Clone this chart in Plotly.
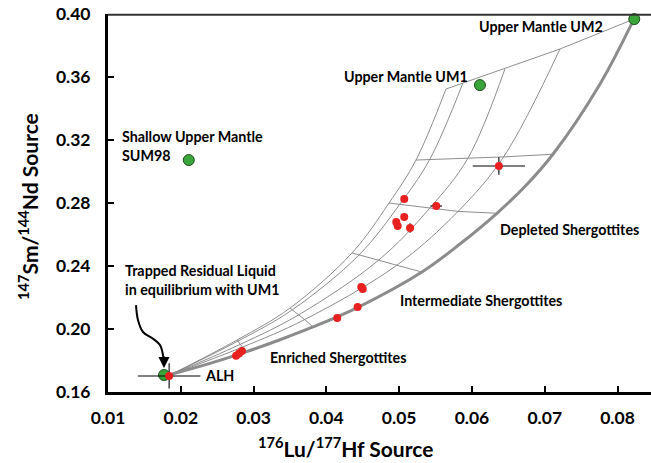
import plotly.graph_objects as go

# ---------------- data ----------------
# mixing curves (thin) from trapped liquid toward upper-mantle end members
c1_x = [0.01879, 0.02772, 0.03500, 0.04352, 0.04860, 0.05231, 0.05643]
c1_y = [0.1714, 0.1930, 0.2133, 0.2483, 0.2800, 0.3073, 0.3524]
c2_x = [0.01879, 0.02784, 0.03532, 0.04448, 0.05008, 0.05419, 0.05876]
c2_y = [0.1714, 0.1923, 0.2122, 0.2470, 0.2792, 0.3076, 0.3562]
c3_x = [0.01879, 0.02819, 0.03619, 0.04717, 0.05423, 0.05945, 0.06453]
c3_y = [0.1714, 0.1903, 0.2090, 0.2437, 0.2769, 0.3085, 0.3651]
c4_x = [0.01879, 0.02852, 0.03702, 0.04967, 0.05809, 0.06435, 0.07209]
c4_y = [0.1714, 0.1886, 0.2060, 0.2405, 0.2747, 0.3093, 0.3778]
# thick curve ALH -> UM2
c5_x = [0.01879, 0.02401, 0.02896, 0.03363, 0.03816, 0.04434, 0.05313,
        0.05835, 0.06343, 0.06728, 0.07113, 0.07758, 0.08225]
c5_y = [0.1714, 0.1782, 0.1855, 0.1932, 0.2013, 0.2138, 0.2362,
        0.2540, 0.2735, 0.2905, 0.3110, 0.3555, 0.3968]

# end members (green)
em_x = [0.0211, 0.0611, 0.0823]
em_y = [0.3073, 0.3549, 0.3968]
trapped_x = [0.0177]
trapped_y = [0.1708]

# shergottite sources (red)
sh_x = [0.0184, 0.0276, 0.0280, 0.0284, 0.0415, 0.0443, 0.0448, 0.0450,
        0.0507, 0.0551, 0.0507, 0.0496, 0.0498, 0.0515, 0.0637]
sh_y = [0.1702, 0.1830, 0.1845, 0.1860, 0.2070, 0.2140, 0.2267, 0.2254,
        0.2825, 0.2781, 0.2711, 0.2679, 0.2654, 0.2641, 0.3035]
sh_ex = [0.0043, 0, 0, 0, 0, 0, 0, 0, 0, 0.0008, 0, 0, 0, 0, 0.0036]
sh_ey = [0.0080, 0, 0, 0, 0, 0, 0, 0, 0, 0, 0.0025, 0, 0, 0.0030, 0.0055]

# curved arrow path
arrow_x = [0.01385, 0.01412, 0.01481, 0.01604, 0.01714, 0.01755, 0.01769]
arrow_y = [0.2152, 0.2057, 0.1981, 0.1943, 0.1898, 0.1835, 0.1765]

x_ticks = [0.01, 0.02, 0.03, 0.04, 0.05, 0.06, 0.07, 0.08]
x_tick_labels = ["0.01", "0.02", "0.03", "0.04", "0.05", "0.06", "0.07", "0.08"]
y_ticks = [0.16, 0.20, 0.24, 0.28, 0.32, 0.36, 0.40]
y_tick_labels = ["0.16", "0.20", "0.24", "0.28", "0.32", "0.36", "0.40"]

# ---------------- figure ----------------
THIN = "#808080"
FONT = "Lato"
fig = go.Figure()

thin_curves = [(c1_x, c1_y), (c2_x, c2_y), (c3_x, c3_y), (c4_x, c4_y)]
for cx, cy in thin_curves:
    fig.add_trace(go.Scatter(x=cx, y=cy, mode="lines",
                             line=dict(color=THIN, width=0.9, shape="spline", smoothing=1.0),
                             hoverinfo="skip", showlegend=False))

# tie lines across the curves (equal mixing proportions)
for k in range(1, 7):
    tx = [c[0][k] for c in thin_curves] + [c5_x[2 * k]]
    ty = [c[1][k] for c in thin_curves] + [c5_y[2 * k]]
    fig.add_trace(go.Scatter(x=tx, y=ty, mode="lines",
                             line=dict(color=THIN, width=0.9),
                             hoverinfo="skip", showlegend=False))

fig.add_trace(go.Scatter(x=c5_x, y=c5_y, mode="lines",
                         line=dict(color="#8c8c8c", width=3, shape="spline", smoothing=1.0),
                         hoverinfo="skip", showlegend=False))

# arrow
fig.add_trace(go.Scatter(x=arrow_x, y=arrow_y, mode="lines",
                         line=dict(color="black", width=2, shape="spline"),
                         hoverinfo="skip", showlegend=False))

fig.add_trace(go.Scatter(x=trapped_x, y=trapped_y, mode="markers",
                         marker=dict(color="#3aa53a", size=11, line=dict(color="#1d4d1d", width=1)),
                         showlegend=False))

fig.add_trace(go.Scatter(x=sh_x, y=sh_y, mode="markers",
                         marker=dict(color="#e8201f", size=8),
                         error_x=dict(type="data", array=sh_ex, color="black", thickness=1.1, width=0),
                         error_y=dict(type="data", array=sh_ey, color="black", thickness=1.1, width=0),
                         showlegend=False))

fig.add_trace(go.Scatter(x=em_x, y=em_y, mode="markers",
                         marker=dict(color="#3aa53a", size=11, line=dict(color="#1d4d1d", width=1)),
                         showlegend=False, cliponaxis=False))

ann_font = dict(family=FONT, size=14.3, color="black")
labels = [
    (em_x[2] - 0.0040, 0.3924, "Upper Mantle UM2", "right"),
    (em_x[1] - 0.0014, 0.3606, "Upper Mantle UM1", "right"),
    (0.01165, 0.3165, "Shallow Upper Mantle<br>SUM98", "left"),
    (0.06357, 0.2629, "Depleted Shergottites", "left"),
    (0.04984, 0.2184, "Intermediate Shergottites", "left"),
    (0.03198, 0.1822, "Enriched Shergottites", "left"),
    (0.01206, 0.2311, "Trapped Residual Liquid<br>in equilibrium with UM1", "left"),
    (0.02305, 0.1702, "ALH", "left"),
]
for lx, ly, txt, anc in labels:
    bold = "<br>".join("<b>%s</b>" % s for s in txt.split("<br>"))
    fig.add_annotation(x=lx, y=ly, text=bold, showarrow=False, xanchor=anc,
                       yanchor="middle", align=anc, font=ann_font)

# arrow head
fig.add_annotation(x=arrow_x[-1], y=0.1752, ax=arrow_x[-1], ay=arrow_y[-2],
                   xref="x", yref="y", axref="x", ayref="y", text="",
                   showarrow=True, arrowhead=2, arrowsize=1.1, arrowwidth=2, arrowcolor="black")

# axis titles
fig.add_annotation(xref="paper", yref="paper", x=0.438, y=-0.145, showarrow=False,
                   text="<b><sup>176</sup>Lu/<sup>177</sup>Hf Source</b>",
                   font=dict(family=FONT, size=21, color="black"), xanchor="center", yanchor="middle")
fig.add_annotation(xref="paper", yref="paper", x=-0.147, y=0.49, showarrow=False, textangle=-90,
                   text="<b><sup>147</sup>Sm/<sup>144</sup>Nd Source</b>",
                   font=dict(family=FONT, size=21, color="black"), xanchor="center", yanchor="middle")

# top border of the plot area
fig.add_shape(type="line", xref="paper", yref="paper", x0=0, x1=1, y0=0.998, y1=0.998,
              line=dict(color="#333333", width=1.8), layer="above")

fig.update_xaxes(range=[0.01, 0.0846], tickvals=x_ticks, ticktext=x_tick_labels,
                 ticks="inside", ticklen=6, tickwidth=1.5, tickcolor="black",
                 showline=True, linecolor="black", linewidth=3, showgrid=False, zeroline=False,
                 tickfont=dict(family=FONT, size=17.5, color="black", weight="bold"),
                 ticklabelstandoff=8, automargin=False, ticklabeloverflow="allow")
fig.update_yaxes(range=[0.16, 0.40005], tickvals=y_ticks, ticktext=y_tick_labels,
                 ticks="inside", ticklen=6, tickwidth=1.5, tickcolor="black",
                 showline=True, linecolor="black", linewidth=3, showgrid=False, zeroline=False,
                 tickfont=dict(family=FONT, size=17.5, color="black", weight="bold"),
                 ticklabelstandoff=11, automargin=False, ticklabeloverflow="allow")

fig.update_layout(width=651, height=463, margin=dict(l=108, r=0, t=14, b=71, autoexpand=False),
                  plot_bgcolor="white", paper_bgcolor="white", showlegend=False)

# remove the default page margin so the figure fills the window exactly
fig.write_html("out.html", config={"displayModeBar": False},
               post_script="document.body.style.margin='0';document.body.style.overflow='hidden';")
